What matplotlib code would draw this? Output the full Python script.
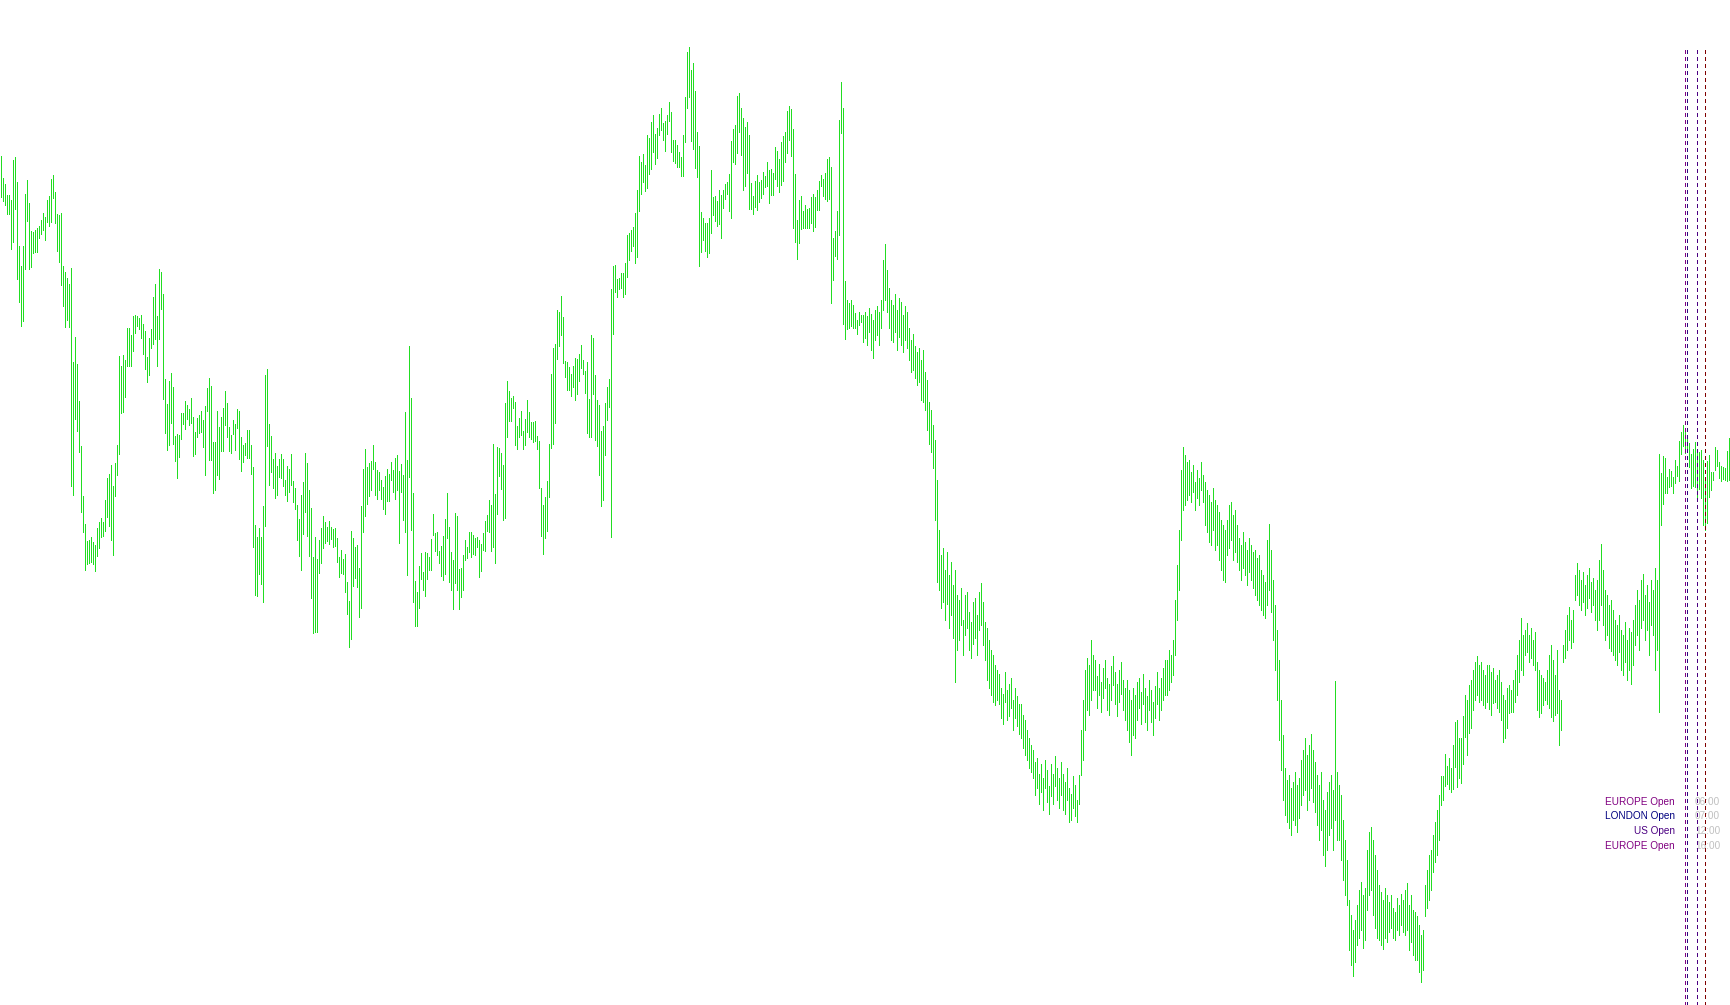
import numpy as np
import matplotlib.pyplot as plt

# bar highs / lows (price units) left to right
high_a = [844, 822, 816, 805, 805, 800, 840, 843, 818, 754, 734, 754, 806, 820, 797, 769, 768, 770, 772, 774,
          780, 787, 783, 800, 804, 821, 825, 808, 786, 785, 787, 734, 728, 722, 716, 732, 638, 663, 636, 599,
          554, 504, 476, 459, 460, 463, 458, 455, 472, 478, 482, 478, 500, 522, 526, 535, 514, 537, 555, 644,
          634, 645, 640, 672, 672, 665, 684, 685, 684, 682, 685, 676, 669, 643, 662, 671, 703, 716, 684, 731,
          728, 706, 621, 596, 619, 627, 613, 564, 566, 565, 587, 587, 599, 595, 591, 602, 583, 568, 582, 585,
          589, 580, 594, 612, 622, 614, 558, 558]
low_a = [803, 799, 795, 786, 786, 751, 758, 791, 721, 698, 674, 679, 731, 779, 731, 733, 747, 748, 748, 762,
         766, 770, 760, 778, 774, 778, 802, 777, 749, 738, 715, 694, 673, 680, 673, 514, 505, 581, 569, 548,
         488, 468, 430, 436, 437, 438, 436, 429, 444, 452, 463, 464, 469, 483, 474, 460, 445, 504, 525, 546,
         587, 588, 603, 634, 634, 634, 649, 667, 674, 671, 662, 646, 631, 618, 625, 652, 656, 661, 634, 661,
         691, 601, 567, 550, 555, 577, 556, 539, 522, 543, 561, 576, 571, 581, 575, 577, 544, 546, 563, 567,
         568, 553, 525, 589, 540, 540, 507, 510]

high_b = [589, 573, 583, 592, 609, 597, 573, 565, 580, 576, 591, 589, 563, 555, 557, 570, 570, 555, 533, 475,
          463, 472, 463, 494, 625, 631, 576, 564, 541, 547, 534, 541, 546, 541, 520, 534, 531, 546, 519, 512,
          495, 481, 505, 518, 547, 537, 510, 492, 443, 463, 441, 460, 472, 484, 478, 473, 479, 473, 471, 472,
          462, 443, 450, 441, 446, 418, 399, 469, 462, 453, 455, 432, 494, 531, 551, 533, 537, 539, 555, 538,
          530, 528, 520, 513, 524, 531, 526, 538, 530, 542, 545, 529, 536, 525, 588, 540, 654, 602, 507, 419,
          408, 434, 447, 428, 448, 447, 443, 461]
low_b = [525, 521, 549, 549, 575, 563, 549, 547, 566, 550, 572, 541, 529, 538, 545, 542, 542, 526, 453, 405,
         404, 426, 416, 398, 474, 554, 515, 528, 512, 502, 505, 523, 522, 514, 505, 499, 508, 515, 498, 491,
         460, 444, 430, 466, 488, 464, 444, 402, 367, 368, 368, 427, 437, 452, 457, 459, 456, 461, 453, 454,
         438, 423, 427, 426, 408, 386, 353, 361, 414, 422, 413, 383, 392, 468, 484, 496, 504, 510, 531, 505,
         501, 510, 501, 491, 486, 499, 499, 520, 508, 501, 510, 457, 508, 480, 468, 425, 523, 470, 398, 374,
         374, 392, 421, 410, 404, 421, 430, 430]

high_c = [486, 467, 468, 449, 454, 464, 481, 507, 473, 448, 440, 487, 484, 431, 432, 445, 460, 453, 468, 468,
          465, 462, 463, 460, 456, 467, 479, 485, 500, 495, 556, 506, 553, 552, 547, 535, 597, 619, 609, 602,
          604, 598, 574, 582, 589, 569, 581, 600, 588, 578, 578, 579, 564, 559, 512, 495, 503, 519, 556, 626,
          652, 656, 690, 688, 704, 683, 639, 638, 633, 626, 634, 642, 641, 646, 655, 640, 629, 638, 601, 665,
          662, 625, 600, 595, 569, 574, 597, 613, 621, 711, 734, 735, 721, 722, 727, 727, 737, 765, 767, 770,
          773, 787, 810, 844, 838, 846, 835, 865]
low_c = [465, 449, 445, 437, 424, 420, 426, 462, 418, 410, 391, 417, 410, 391, 403, 410, 440, 442, 448, 443,
         446, 445, 453, 423, 429, 450, 449, 469, 468, 449, 453, 437, 486, 524, 511, 480, 482, 563, 579, 579,
         592, 555, 551, 563, 565, 551, 555, 568, 563, 561, 558, 559, 551, 512, 464, 446, 462, 469, 503, 552,
         556, 577, 641, 654, 665, 637, 623, 610, 610, 604, 613, 600, 606, 619, 632, 626, 607, 567, 563, 563,
         606, 560, 554, 525, 494, 500, 545, 580, 593, 463, 666, 708, 703, 711, 712, 703, 706, 723, 740, 749,
         754, 737, 743, 789, 806, 818, 809, 812]

high_d = [862, 878, 885, 866, 872, 886, 892, 877, 879, 885, 898, 888, 860, 860, 855, 848, 843, 865, 903, 948,
          953, 930, 937, 909, 868, 854, 788, 782, 777, 777, 782, 830, 803, 804, 799, 810, 805, 810, 816, 818,
          826, 859, 871, 875, 904, 907, 892, 882, 873, 878, 865, 817, 804, 819, 825, 818, 820, 828, 824, 838,
          830, 831, 827, 853, 849, 841, 858, 864, 868, 889, 894, 891, 871, 826, 780, 800, 804, 789, 795, 791,
          792, 803, 806, 803, 810, 819, 825, 821, 827, 841, 843, 833, 762, 769, 789, 880, 918, 892, 719, 700,
          697, 700, 695, 687, 680, 688, 685, 685]
low_d = [826, 831, 848, 836, 842, 865, 870, 860, 849, 866, 879, 848, 839, 837, 833, 833, 824, 824, 858, 892,
         903, 859, 851, 832, 823, 734, 748, 760, 749, 743, 747, 767, 785, 779, 774, 776, 762, 792, 801, 806,
         789, 782, 838, 836, 847, 868, 845, 810, 814, 827, 791, 791, 786, 793, 790, 798, 802, 806, 813, 814,
         797, 805, 805, 821, 814, 808, 815, 819, 838, 847, 860, 844, 772, 758, 741, 757, 771, 772, 772, 772,
         772, 777, 769, 773, 790, 790, 814, 804, 801, 799, 801, 697, 720, 744, 741, 765, 867, 676, 661, 671,
         672, 674, 672, 672, 666, 675, 678, 658]

high_e = [688, 684, 692, 686, 680, 690, 694, 688, 700, 740, 756, 730, 712, 700, 695, 706, 690, 702, 698, 685,
          694, 688, 672, 660, 666, 654, 648, 652, 640, 650, 628, 620, 598, 590, 575, 560, 520, 470, 445, 452,
          430, 448, 425, 438, 415, 430, 405, 400, 412, 380, 405, 408, 388, 378, 398, 402, 385, 408, 417, 398,
          378, 372, 360, 350, 345, 335, 330, 326, 312, 306, 328, 310, 316, 322, 300, 312, 304, 296, 296, 285,
          280, 270, 262, 255, 250, 238, 242, 226, 236, 222, 240, 230, 214, 236, 226, 244, 232, 222, 238, 226,
          218, 232, 212, 206, 224, 215, 200, 225, 270, 300, 330, 342, 335, 360, 345, 340, 324, 336, 318, 332,
          340, 322, 316, 334, 344, 328, 316, 330, 338, 320, 312]
low_e = [662, 655, 668, 650, 642, 660, 665, 655, 672, 690, 700, 688, 672, 660, 658, 668, 650, 663, 655, 648,
         660, 652, 640, 628, 630, 622, 615, 618, 600, 598, 590, 570, 556, 548, 532, 480, 418, 410, 392, 398,
         380, 396, 372, 385, 362, 318, 350, 360, 375, 345, 365, 372, 350, 342, 356, 362, 345, 370, 375, 355,
         340, 320, 312, 305, 298, 295, 300, 296, 282, 276, 298, 280, 284, 292, 270, 282, 274, 266, 262, 252,
         245, 240, 232, 228, 222, 205, 212, 196, 208, 190, 212, 198, 186, 204, 196, 214, 200, 192, 205, 190,
         186, 200, 178, 180, 192, 184, 178, 196, 225, 240, 270, 290, 285, 300, 310, 310, 292, 305, 288, 302,
         312, 290, 285, 300, 315, 296, 284, 298, 306, 290, 280]

high_f = [320, 310, 300, 312, 305, 318, 322, 308, 326, 312, 304, 320, 310, 298, 314, 328, 312, 322, 332, 340,
          340, 350, 345, 360, 400, 435, 470, 530, 553, 545, 538, 540, 528, 535, 518, 530, 522, 538, 525, 518,
          510, 505, 498, 512, 500, 495, 488, 480, 475, 470, 480, 495, 498, 485, 490, 475, 462, 455, 468, 458,
          450, 462, 455, 448, 450, 442, 445, 430, 425, 418, 460, 476, 450, 420, 395, 370, 340, 300, 265]
low_f = [270, 258, 245, 265, 262, 280, 292, 276, 296, 278, 270, 290, 278, 265, 282, 296, 280, 290, 300, 305,
         305, 310, 318, 325, 345, 380, 410, 460, 490, 495, 500, 505, 498, 508, 490, 502, 495, 510, 498, 475,
         468, 458, 455, 470, 450, 455, 440, 430, 420, 418, 445, 452, 460, 440, 448, 438, 430, 420, 432, 425,
         415, 428, 420, 412, 405, 400, 395, 390, 385, 382, 395, 410, 388, 360, 330, 300, 260, 230, 200]

high_g = [232, 220, 225, 212, 218, 228, 215, 222, 240, 250, 262, 245, 255, 266, 250, 238, 225, 215, 228, 200,
          190, 208, 218, 225, 210, 319, 228, 215, 205, 180, 160, 140, 100, 85, 70, 80, 95, 110, 118, 105,
          112, 150, 168, 173, 160, 145, 130, 115, 108, 100, 112, 105, 98, 105, 92, 88, 102, 95, 106, 100,
          110, 117, 95, 105, 90, 88, 84, 75, 65, 70, 115, 130, 145, 150]
low_g = [185, 178, 172, 165, 180, 175, 168, 182, 195, 205, 210, 190, 200, 212, 198, 188, 175, 160, 170, 145,
         134, 150, 165, 172, 150, 180, 160, 160, 140, 120, 105, 95, 50, 35, 24, 38, 55, 62, 70, 52,
         60, 90, 105, 110, 85, 72, 62, 60, 55, 51, 62, 58, 68, 72, 62, 60, 70, 65, 75, 68,
         65, 70, 50, 58, 45, 40, 40, 28, 18, 30, 84, 92, 100, 110]

high_h = [165, 178, 190, 205, 224, 224, 246, 234, 242, 232, 255, 278, 280, 262, 262, 284, 305, 300, 315, 320,
          330, 338, 344, 335, 338, 330, 325, 335, 335, 328, 332, 320, 325, 330, 318, 305, 300, 312, 315, 310,
          320, 330, 345, 360, 382, 365, 370, 377, 365, 372, 360, 368, 338, 330, 325, 322, 318, 330, 345, 355,
          340, 325, 350, 310, 300]
low_h = [128, 138, 145, 160, 195, 200, 214, 216, 211, 208, 211, 233, 213, 222, 217, 236, 263, 245, 267, 272,
         290, 300, 305, 298, 300, 295, 292, 298, 291, 285, 297, 298, 292, 288, 280, 258, 262, 272, 287, 288,
         288, 298, 305, 318, 330, 325, 345, 348, 338, 342, 335, 330, 290, 283, 287, 295, 300, 296, 292, 283,
         279, 285, 287, 255, 270]

high_i = [355, 370, 385, 393, 380, 390, 425, 437, 430, 420, 428, 415, 425, 432, 418, 422, 410, 420, 440, 456,
          430, 410, 405, 395, 400, 390, 380, 375, 385, 370, 365, 378, 360, 372, 368, 380, 395, 410, 400, 420,
          426, 405, 415, 398, 420, 410, 432, 420]
low_i = [338, 342, 350, 360, 352, 358, 400, 405, 395, 390, 398, 385, 392, 402, 388, 395, 380, 370, 380, 395,
         375, 360, 365, 352, 349, 345, 340, 335, 348, 330, 325, 338, 320, 330, 316, 335, 355, 365, 350, 372,
         380, 360, 370, 345, 375, 365, 330, 350]

high_j = [546, 527, 544, 542, 523, 531, 529, 523, 540, 534, 559, 568, 575, 569, 565, 557, 546, 551, 558, 548,
          548, 550, 540, 523, 539, 545, 528, 528, 553, 550, 538, 534, 533, 532, 549, 562]
low_j = [288, 475, 496, 507, 507, 513, 514, 507, 517, 524, 519, 546, 554, 547, 548, 533, 512, 514, 513, 502,
         511, 502, 475, 470, 477, 503, 510, 520, 530, 534, 522, 519, 521, 520, 519, 520]

# session markers (bar index of the line, label, time)
session_bars = [842, 843, 848, 852]
session_names = ["EUROPE Open", "LONDON Open", "US Open", "EUROPE Open"]
session_times = ["06:00", "07:00", "12:00", "16:00"]
name_colors = ["#800080", "#000080", "#4b0082", "#800080"]
line_colors = ["#800080", "#2a0a80", "#4b0082", "#800000"]

highs = np.concatenate([high_a, high_b, high_c, high_d, high_e, high_f, high_g, high_h, high_i, high_j])
lows = np.concatenate([low_a, low_b, low_c, low_d, low_e, low_f, low_g, low_h, low_i, low_j])
x = np.arange(len(highs))

W, H = 1730, 1005
fig = plt.figure(figsize=(W / 100, H / 100), dpi=100)
ax = fig.add_axes([0, 0, 1, 1])
ax.set_axis_off()

# high-low bars
ax.vlines(x, lows, highs, colors="#22dd22", linewidth=0.72, antialiased=False, zorder=2)

# session lines
for b, c in zip(session_bars, line_colors):
    ax.axvline(b, ymin=0, ymax=1 - 47 / H, color=c, linewidth=0.72,
               linestyle=(0, (3, 3)), antialiased=False, zorder=4)

ax.set_xlim(-0.665, (W - 1.33) / 2)
ax.set_ylim(-5, 1000)

# session labels, lower right
rows = [805, 819, 834, 849]
for name, t, c, yy in zip(session_names, session_times, name_colors, rows):
    fy = 1 - yy / H
    ax.text(1675 / W, fy, name, transform=ax.transAxes, ha="right", va="baseline",
            fontsize=7.2, family="Liberation Sans", color=c, zorder=3)
    ax.text(1695 / W, fy, t, transform=ax.transAxes, ha="left", va="baseline",
            fontsize=7.2, family="Liberation Sans", color="#c0c0c0", zorder=3)

fig.savefig("out.png", dpi=100, facecolor="white")
